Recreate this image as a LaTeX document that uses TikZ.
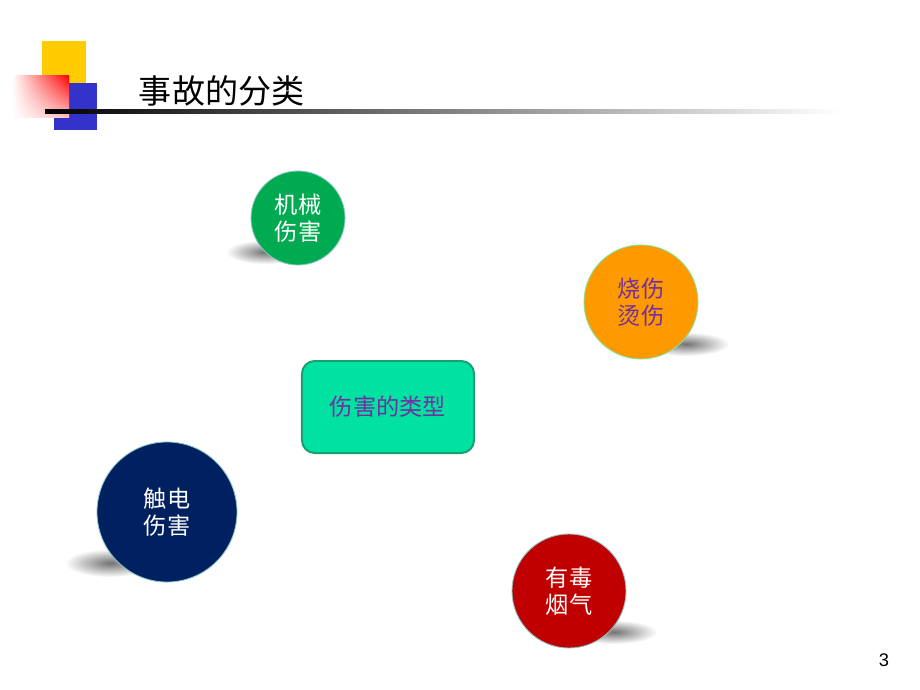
\documentclass[tikz,border=0pt]{standalone}
\usepackage{fontspec}
\setmainfont{Liberation Sans}
\newfontfamily\cjk{Noto Sans CJK SC}
\usepackage{tikz}
\usetikzlibrary{shapes.geometric, shadings, positioning}
\definecolor{ballgreen}{RGB}{0, 170, 80}
\definecolor{ballorange}{RGB}{255, 153, 0}
\definecolor{ballnavy}{RGB}{0, 32, 96}
\definecolor{ballred}{RGB}{192, 0, 0}
\definecolor{boxgreen}{RGB}{0, 226, 162}
\definecolor{boxedge}{RGB}{24, 160, 112}
\definecolor{textpurple}{RGB}{112, 48, 160}
\definecolor{decoyellow}{RGB}{255, 204, 0}
\definecolor{decoblue}{RGB}{51, 51, 204}

\begin{document}
\begin{tikzpicture}[
    x=0.025cm, y=-0.025cm,
    ball/.style={circle, draw=teal!45, line width=0.6pt, minimum size=#1, align=center, inner sep=0pt, font=\cjk\fontsize{16.5}{19}\selectfont},
    typebox/.style={rectangle, draw=boxedge, line width=1.4pt, rounded corners=9pt, fill=boxgreen, minimum width=4.3cm, minimum height=2.3cm, align=center, font=\cjk\fontsize{16.5}{19}\selectfont, text=textpurple},
    blob/.style={inner color=black!55, outer color=white}
]
    \useasboundingbox (0,0) rectangle (920,690);

    % Title decoration
    \fill[decoyellow] (42,41) rectangle (86,85);
    \fill[decoblue] (54,83) rectangle (97,130);
    \shade[upper left=white, upper right=red, lower left=white, lower right=red!25] (12,76) rectangle (69,117);
    \shade[left color=black, right color=white] (45,109) rectangle (840,113);
    \node[anchor=west, font=\cjk\fontsize{23.5}{26}\selectfont] (title) at (134,91) {事故的分类};

    % Shadows
    \shade[blob] (265,252) ellipse (39 and 12);
    \shade[blob] (686,344) ellipse (43 and 12);
    \shade[blob] (110,563) ellipse (45 and 14);
    \shade[blob] (614,632) ellipse (43 and 12);

    % Centre
    \node[typebox] (leixing) at (388,407) {伤害的类型};

    % Balls
    \node[ball=2.35cm, fill=ballgreen, text=white] (jixie) at (298,218) {机械\\伤害};
    \node[ball=2.85cm, fill=ballorange, text=textpurple, draw=green!60!teal!50] (shaoshang) at (641,302) {烧伤\\烫伤};
    \node[ball=3.5cm, fill=ballnavy, text=white] (chudian) at (167,512) {触电\\伤害};
    \node[ball=2.85cm, fill=ballred, text=white] (youdu) at (569,591) {有毒\\烟气};

    % Page number
    \node[font=\fontsize{13}{15}\selectfont] (page) at (884,660) {3};
\end{tikzpicture}
\end{document}
